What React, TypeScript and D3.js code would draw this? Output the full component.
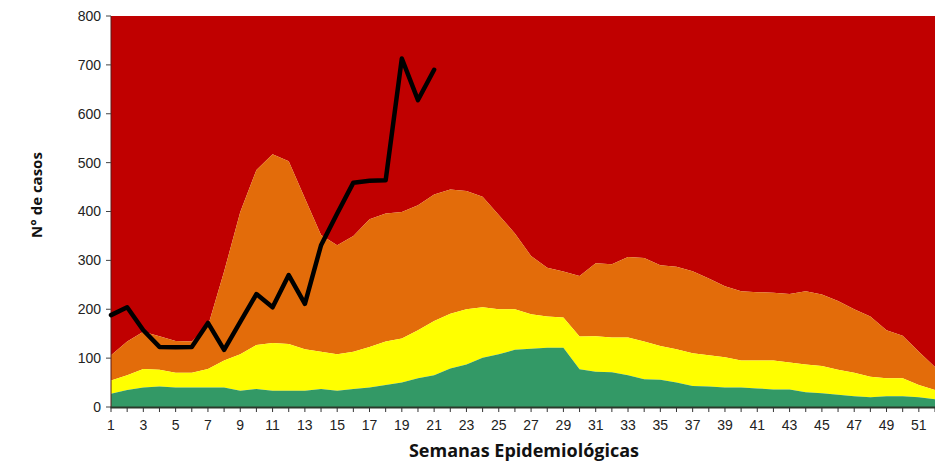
import React from "react";
import * as d3 from "d3";

const weeks: number[] = Array.from({ length: 52 }, (_, i) => i + 1);

// cumulative upper bounds of zones
const successZone: number[] = [27, 35, 40, 42, 40, 40, 40, 40, 33, 37, 33, 33, 33, 37, 33, 37, 40, 45, 50, 59, 65, 79, 87, 101, 108, 117, 119, 121, 121, 77, 72, 71, 65, 57, 56, 50, 43, 42, 40, 40, 38, 36, 36, 30, 28, 25, 22, 20, 22, 22, 20, 16];
const securityZone: number[] = [54, 65, 78, 76, 70, 70, 78, 95, 108, 127, 131, 129, 118, 113, 108, 113, 123, 134, 140, 157, 176, 191, 200, 204, 200, 200, 190, 185, 183, 144, 145, 142, 142, 134, 125, 118, 110, 106, 102, 95, 95, 95, 91, 87, 84, 76, 70, 62, 59, 59, 45, 35];
const alertZone: number[] = [106, 134, 154, 145, 135, 134, 165, 277, 399, 485, 517, 503, 427, 352, 331, 350, 384, 396, 399, 413, 435, 445, 442, 430, 393, 355, 309, 285, 277, 268, 294, 292, 307, 305, 290, 287, 278, 263, 247, 237, 235, 234, 231, 237, 230, 217, 200, 185, 157, 146, 113, 82];
const epidemicTop = 800;

const caseWeeks: number[] = [1, 2, 3, 4, 5, 6, 7, 8, 9, 10, 11, 12, 13, 14, 15, 16, 17, 18, 19, 20, 21];
const cases: number[] = [188, 204, 157, 123, 122, 123, 172, 117, 174, 231, 204, 270, 211, 331, 396, 459, 463, 464, 713, 628, 690];

const yTicks: number[] = [0, 100, 200, 300, 400, 500, 600, 700, 800];
const xTickLabels: number[] = weeks.filter((w) => w % 2 === 1);

export default function App() {
  const W = 935, H = 463;
  const left = 111, right = 935, top = 16, bottom = 407;
  const x = d3.scaleLinear().domain([1, 52]).range([left, right]);
  const y = d3.scaleLinear().domain([0, 800]).range([bottom, top]);

  const bands = [
    { lower: weeks.map(() => epidemicTop), upper: alertZone, color: "#C00000" },
    { lower: alertZone, upper: securityZone, color: "#E36C0A" },
    { lower: securityZone, upper: successZone, color: "#FFFF00" },
    { lower: successZone, upper: weeks.map(() => 0), color: "#339966" },
  ];

  const line = d3
    .line<number>()
    .x((_, i) => x(caseWeeks[i]))
    .y((d) => y(d));

  const font = "'Liberation Sans', Arial, sans-serif";

  return (
    <svg width={W} height={H} style={{ position: "absolute", left: 0, top: 0 }}>
      {bands.map((b, k) => {
        const gen = d3
          .area<number>()
          .x((i) => x(weeks[i]))
          .y0((i) => y(b.upper[i]))
          .y1((i) => y(b.lower[i]));
        return <path key={k} d={gen(weeks.map((_, i) => i)) || ""} fill={b.color} />;
      })}
      <line x1={left} x2={left} y1={top} y2={bottom} stroke="#5a1a1a" strokeWidth={1} />
      <line x1={left - 0.5} x2={right} y1={bottom + 0.5} y2={bottom + 0.5} stroke="#2a3a2a" strokeWidth={2} />
      {yTicks.map((t) => (
        <g key={t}>
          <line x1={left - 5} x2={left} y1={y(t)} y2={y(t)} stroke="#444" strokeWidth={1} />
          <text x={101} y={y(t)} dy="0.35em" textAnchor="end" fontFamily={font} fontSize={14} fill="#222">
            {t}
          </text>
        </g>
      ))}
      {weeks.map((w) => (
        <line key={w} x1={x(w)} x2={x(w)} y1={bottom} y2={bottom + 5} stroke="#333" strokeWidth={1} />
      ))}
      {xTickLabels.map((w) => (
        <text key={w} x={x(w)} y={430} textAnchor="middle" fontFamily={font} fontSize={14} fill="#222">
          {w}
        </text>
      ))}
      <text
        transform={`translate(42,195) rotate(-90)`}
        textAnchor="middle"
        fontFamily="'Open Sans', sans-serif"
        fontWeight="bold"
        fontSize={15}
        fill="#111"
      >
        N° de casos
      </text>
      <text x={524} y={457} textAnchor="middle" fontFamily="'Open Sans', sans-serif" fontWeight="bold" fontSize={18} fill="#111">
        Semanas Epidemiológicas
      </text>
      <path d={line(cases) || ""} fill="none" stroke="#000" strokeWidth={4.5} strokeLinejoin="round" strokeLinecap="round" />
    </svg>
  );
}
